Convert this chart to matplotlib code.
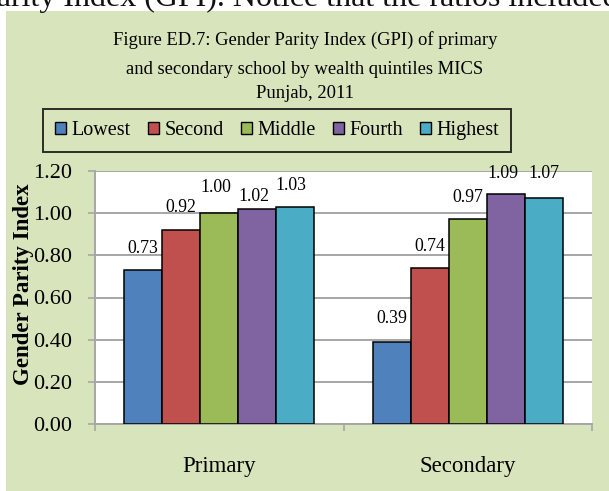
import numpy as np
import matplotlib
matplotlib.use("Agg")
import matplotlib.pyplot as plt
from matplotlib.patches import Rectangle, Patch

levels = ["Primary", "Secondary"]
quintiles = ["Lowest", "Second", "Middle", "Fourth", "Highest"]
gpi = {
    "Lowest":  [0.73, 0.39],
    "Second":  [0.92, 0.74],
    "Middle":  [1.00, 0.97],
    "Fourth":  [1.02, 1.09],
    "Highest": [1.03, 1.07],
}
yticks = [0.0, 0.2, 0.4, 0.6, 0.8, 1.0, 1.2]

COL = ["#4f81bd", "#c0504d", "#9bbb59", "#8064a2", "#4bacc6"]
# label nudges in pixels (dx, dy above bar top), per quintile and level
NUDGE = {
    "Lowest":  [(0, 22), (0, 23)],
    "Second":  [(0, 23), (0, 21)],
    "Middle":  [(-3, 26), (0, 22)],
    "Fourth":  [(-3, 12), (-3, 21)],
    "Highest": [(-4, 21), (0, 25)],
}

plt.rcParams["font.family"] = ["Liberation Serif", "DejaVu Serif"]
W, H = 609, 491
fig = plt.figure(figsize=(W / 100, H / 100), dpi=100, facecolor="white")

# page text above the panel, cut off by the top edge
fig.text(-21 / W, 1 - 6 / H, "Parity Index (GPI). Notice that the ratios included",
         fontsize=23, va="baseline", ha="left", color="#111111")
fig.patches.append(Rectangle((6 / W, 0), 1 - 6 / W, 1 - 11 / H, transform=fig.transFigure,
                             facecolor="#d8e4bc", edgecolor="none", zorder=-1))

for txt, yp in [("Figure ED.7: Gender Parity Index (GPI) of primary", 40),
                ("and secondary school by wealth quintiles MICS", 70),
                ("Punjab, 2011", 94)]:
    fig.text(305 / W, 1 - yp / H, txt, fontsize=13.4, ha="center", va="center")

ax = fig.add_axes([95 / W, (H - 424) / H, (592 - 95) / W, (424 - 171) / H], zorder=2)
ax.set_facecolor("white")
x = np.arange(len(levels))
bw = 0.153
for i, q in enumerate(quintiles):
    xs = x + (i - 2) * bw
    ax.bar(xs, gpi[q], bw, color=COL[i], edgecolor="black", lw=1.1, zorder=3)
    for j, v in enumerate(gpi[q]):
        dx, dy = NUDGE[q][j]
        ax.annotate(f"{v:.2f}", (xs[j], v), xytext=(dx, dy), textcoords="offset pixels",
                    ha="center", va="center", fontsize=12.8, zorder=4, annotation_clip=False)

ax.set_xlim(-0.5, 1.5)
ax.set_ylim(0, 1.2)
ax.set_yticks(yticks)
ax.set_yticklabels([f"{t:.2f}" for t in yticks])
ax.yaxis.grid(True, color="#a6a6a6", lw=1.4, zorder=0)
ax.set_axisbelow(True)
ax.tick_params(axis="y", length=5, width=1.2, color="#a6a6a6", pad=11.5, labelsize=16)
ax.set_xticks([-0.5, 0.5, 1.5])
ax.set_xticklabels([])
ax.tick_params(axis="x", length=5, width=1.2, color="#a6a6a6")
ax.set_xticks(x, minor=True)
ax.set_xticklabels(levels, minor=True)
ax.tick_params(axis="x", which="minor", length=0, pad=23, labelsize=16.5)
for s in ["top", "right"]:
    ax.spines[s].set_visible(False)
for s in ["left", "bottom"]:
    ax.spines[s].set_color("#a6a6a6")
    ax.spines[s].set_linewidth(1.4)

fig.text(24 / W, 1 - 284 / H, "Gender Parity Index", rotation=90, fontsize=16.5,
         fontweight="bold", ha="center", va="center", zorder=3)

handles = [Patch(facecolor=c, edgecolor="black", lw=1.0) for c in COL]
leg = fig.legend(handles, quintiles, loc="center", bbox_to_anchor=(277 / W, 1 - 130.5 / H),
                 ncol=5, fontsize=14.5, frameon=True, fancybox=False, handlelength=0.57,
                 handleheight=0.57, handletextpad=0.25, columnspacing=0.85, borderpad=0.6)
leg.get_frame().set_edgecolor("black")
leg.get_frame().set_linewidth(1.4)
leg.get_frame().set_facecolor("none")

fig.savefig("out.png", dpi=100)
